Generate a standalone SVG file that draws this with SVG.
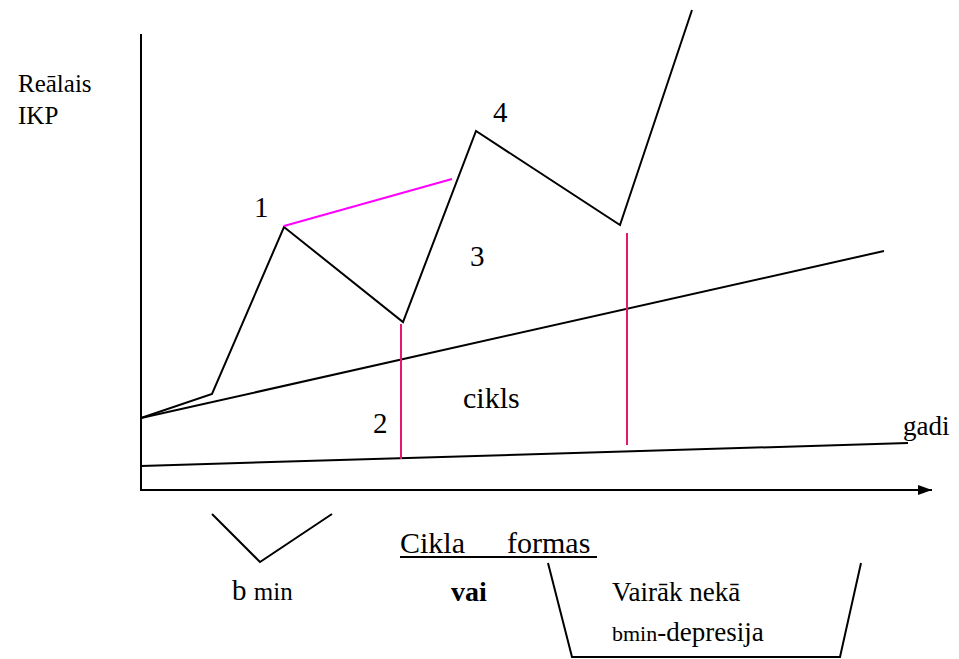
<svg xmlns="http://www.w3.org/2000/svg" width="959" height="659" viewBox="0 0 959 659">
<style>
.ln{fill:none;stroke:#000;stroke-width:2;stroke-linejoin:miter}
.pk{fill:none;stroke:#E6186E;stroke-width:2}
.mg{fill:none;stroke:#FF00FF;stroke-width:2}
text{fill:#000}
</style>
<defs>
<marker id="arr" viewBox="0 0 14 10" refX="14" refY="5" markerWidth="14" markerHeight="10" markerUnits="userSpaceOnUse" orient="auto">
<path d="M0,0 L14,5 L0,10 Z" fill="#000"/>
</marker>
</defs>
<g id="axes">
<line class="ln" x1="141" y1="34" x2="141" y2="491"/>
<line class="ln" x1="141" y1="490" x2="932" y2="490" marker-end="url(#arr)"/>
</g>
<g id="connectors">
<line id="base-line" class="ln" x1="141" y1="466" x2="908" y2="443"/>
<line id="trend-line" class="ln" x1="141" y1="418" x2="884" y2="251"/>
<polyline id="cycle" class="ln" points="141,418 212,394 284,227 403,322 476,131 620,225 692,10"/>
<line id="peak-line" class="mg" x1="284" y1="226" x2="452" y2="179"/>
<line id="v2" class="pk" x1="401" y1="324" x2="401" y2="459"/>
<line id="v3" class="pk" x1="627" y1="233" x2="627" y2="445"/>
</g>
<g id="labels" font-family="Liberation Serif, Times New Roman, serif">
<text x="18" y="92" font-size="25">Reālais</text>
<text x="18" y="124" font-size="25">IKP</text>
<text x="254" y="217" font-size="29">1</text>
<text x="493" y="122" font-size="29">4</text>
<text x="470" y="266" font-size="29">3</text>
<text x="373" y="433" font-size="29">2</text>
<text x="463" y="408" font-size="30">cikls</text>
<text x="903" y="435" font-size="27">gadi</text>
</g>
<g id="bmin" font-family="Liberation Serif, Times New Roman, serif">
<polyline class="ln" points="212,514 260,562 332,514"/>
<text x="232" y="600" font-size="29">b <tspan font-size="25">min</tspan></text>
</g>
<g id="forms-title" font-family="Liberation Serif, Times New Roman, serif">
<text font-size="30" y="553"><tspan x="400">Cikla</tspan><tspan x="507">formas</tspan></text>
<line x1="400" y1="557" x2="597" y2="557" stroke="#000" stroke-width="2"/>
</g>
<g id="vai" font-family="Liberation Serif, Times New Roman, serif">
<text x="451" y="601" font-size="28" font-weight="bold">vai</text>
</g>
<g id="depression" font-family="Liberation Serif, Times New Roman, serif">
<polyline class="ln" points="548,563 572,657 840,657 861,563"/>
<text x="612" y="601" font-size="27">Vairāk nekā</text>
<text x="612" y="641" font-size="27"><tspan font-size="22">bmin</tspan>-depresija</text>
</g>
</svg>
